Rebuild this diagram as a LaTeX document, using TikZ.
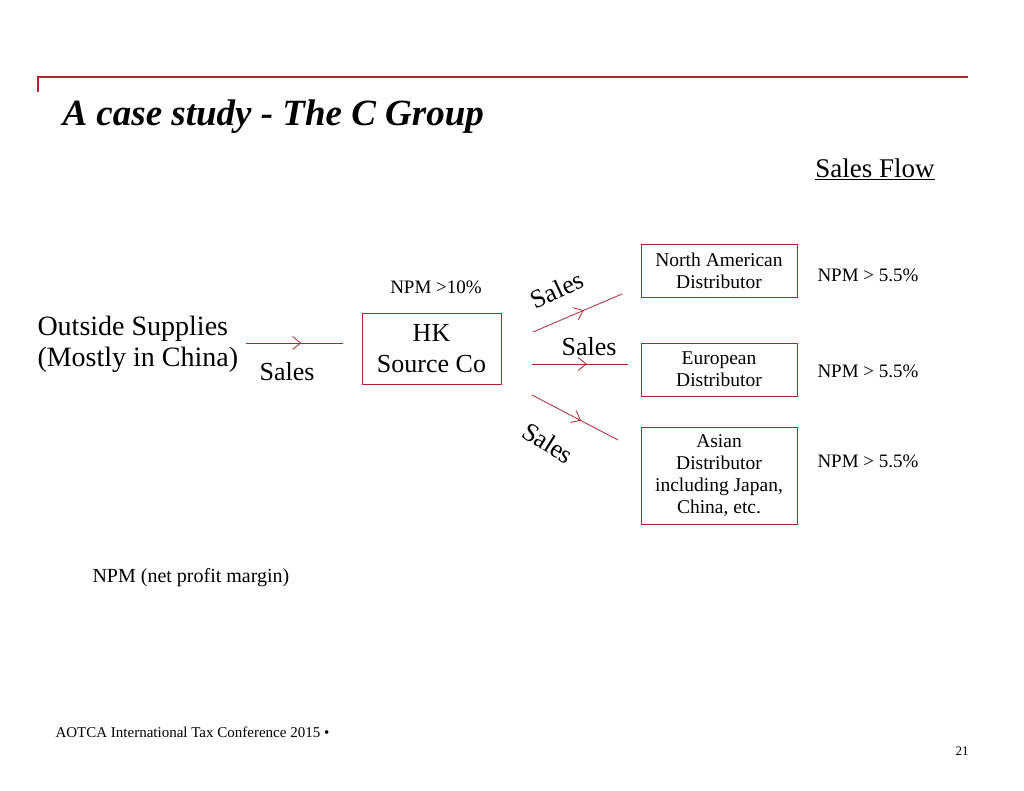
\documentclass[tikz,border=0pt]{standalone}
\usepackage{fontspec}
\setmainfont{Liberation Serif}
\usetikzlibrary{arrows.meta,decorations.markings}
\definecolor{pwcred}{RGB}{170,40,50}

\begin{document}
\begin{tikzpicture}[x=1pt,y=-1pt,
  firm/.style={draw=pwcred,line width=0.9pt,inner sep=0pt,align=center,font=\fontsize{19.5}{21.7}\selectfont},
  flow/.style={draw=pwcred,line width=0.8pt,postaction={decorate},
    decoration={markings,mark=at position 0.57 with {\arrow[pwcred,line width=0.8pt]{Straight Barb[length=8pt,width=13pt]}}}},
  big/.style={font=\fontsize{26}{31}\selectfont},
  small/.style={font=\fontsize{19}{22}\selectfont}]
\useasboundingbox (0,0) rectangle (1024,791);
% header rule
\draw[pwcred,line width=1.2pt] (38,92) -- (38,77) -- (968,77);
\node[anchor=west,font=\fontsize{37}{42}\selectfont\bfseries\itshape] (title) at (59,117) {A case study - The C Group};
\node[font=\fontsize{27}{30}\selectfont] (flowtitle) at (875,169) {\underline{Sales Flow}};
% companies
\node[anchor=west,align=left,font=\fontsize{28}{31}\selectfont] (supply) at (34,344) {Outside Supplies\\(Mostly in China)};
\node[firm,big,minimum width=139pt,minimum height=71pt] (hk) at (431.5,348.5) {HK\\Source Co};
\node[firm,minimum width=156pt,minimum height=53pt] (na) at (719,270.5) {North American\\Distributor};
\node[firm,minimum width=156pt,minimum height=53pt] (eu) at (719,369.5) {European\\Distributor};
\node[firm,minimum width=156pt,minimum height=97pt] (asia) at (719,475.5) {Asian\\Distributor\\including Japan,\\China, etc.};
% end points of the flows
\coordinate (s0) at (246,343);
\coordinate (s1) at (343,343);
\coordinate (u0) at (533,332);
\coordinate (u1) at (622,294);
\coordinate (m0) at (532,364);
\coordinate (m1) at (628,364);
\coordinate (d0) at (532,395);
\coordinate (d1) at (618,440);
\draw[flow] (s0) -- (s1);
\draw[flow] (u0) -- (u1);
\draw[flow] (m0) -- (m1);
\draw[flow] (d0) -- (d1);
\node[big] (lsup) at (287,372) {Sales};
\node[big,rotate=25] (lup) at (557,290) {Sales};
\node[big] (lmid) at (589,347) {Sales};
\node[big,rotate=-32] (ldown) at (548,443) {Sales};
% margins
\node[small] (npmhk) at (436,287) {NPM >10\%};
\node[small] (npmna) at (868,275) {NPM > 5.5\%};
\node[small] (npmeu) at (868,371) {NPM > 5.5\%};
\node[small] (npmas) at (868,461) {NPM > 5.5\%};
\node[anchor=west,font=\fontsize{20}{23}\selectfont] (note) at (89,578) {NPM (net profit margin)};
% footer
\node[anchor=west,font=\fontsize{15}{18}\selectfont] (foot) at (52,732) {AOTCA International Tax Conference 2015 \textbullet};
\node[font=\fontsize{13}{15}\selectfont] (page) at (962,751) {21};
\end{tikzpicture}
\end{document}
